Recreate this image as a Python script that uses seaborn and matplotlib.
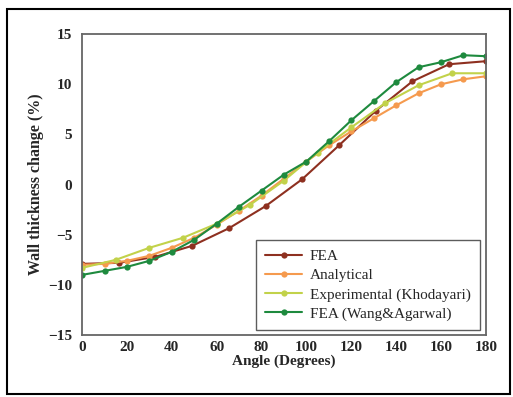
import numpy as np
import pandas as pd
import seaborn as sns
import matplotlib.pyplot as plt
from matplotlib.patches import Rectangle

# =============================================================================
# DATA
# =============================================================================
fea_angle = [0, 16.4, 32.7, 49.1, 65.5, 81.8, 98.2, 114.5, 130.9, 147.3, 163.6, 180]
fea_val = [-7.9, -7.8, -7.2, -6.1, -4.35, -2.15, 0.55, 3.9, 7.35, 10.3, 12.0, 12.3]

ana_angle = [0, 10, 20, 30, 40, 50, 60, 70, 80, 90, 100, 110, 120, 130, 140, 150, 160, 170, 180]
ana_val = [-8.0, -7.9, -7.6, -7.1, -6.3, -5.3, -4.0, -2.6, -1.1, 0.6, 2.3, 3.9,
           5.3, 6.6, 7.9, 9.1, 10.0, 10.5, 10.8]

exp_angle = [0, 15, 30, 45, 60, 75, 90, 105, 120, 135, 150, 165, 180]
exp_val = [-8.3, -7.5, -6.3, -5.3, -3.9, -2.0, 0.4, 3.2, 5.7, 8.1, 9.9, 11.1, 11.1]

wang_angle = [0, 10, 20, 30, 40, 50, 60, 70, 80, 90, 100, 110, 120, 130, 140, 150, 160, 170, 180]
wang_val = [-9.0, -8.6, -8.2, -7.6, -6.7, -5.5, -3.9, -2.2, -0.6, 1.0, 2.3, 4.3,
            6.4, 8.3, 10.2, 11.7, 12.2, 12.9, 12.8]

series_names = ["FEA", "Analytical", "Experimental (Khodayari)", "FEA (Wang&Agarwal)"]
series_colors = ["#8E3020", "#F59A4E", "#C2D24A", "#1E8A3E"]


def build_frame():
    parts = []
    for name, xs, ys in zip(series_names,
                            [fea_angle, ana_angle, exp_angle, wang_angle],
                            [fea_val, ana_val, exp_val, wang_val]):
        parts.append(pd.DataFrame({"Angle": xs, "Change": ys, "Series": name}))
    return pd.concat(parts, ignore_index=True)


# =============================================================================
# PLOT
# =============================================================================
def main():
    df = build_frame()
    sns.set_style("white")
    plt.rcParams["font.family"] = ["Liberation Serif", "DejaVu Serif"]

    fig = plt.figure(figsize=(5.13, 3.97), dpi=100)
    ax = fig.add_axes([0.160, 0.156, 0.787, 0.758])

    palette = dict(zip(series_names, series_colors))
    sns.lineplot(
        data=df, x="Angle", y="Change", hue="Series", style="Series",
        hue_order=series_names, palette=palette,
        markers={n: "o" for n in series_names}, dashes=False,
        markersize=4.5, markeredgewidth=0, linewidth=1.5,
        sort=True, estimator=None, ax=ax,
    )

    ax.set_xlim(0, 180)
    ax.set_ylim(-15, 15)
    ax.set_xticks(range(0, 181, 20))
    ax.set_yticks(range(-15, 16, 5))
    ax.set_xticklabels([str(v) for v in range(0, 181, 20)], fontweight="bold", fontsize=11)
    ax.set_yticklabels([f"\u2212{abs(v)}" if v < 0 else str(v) for v in range(-15, 16, 5)],
                       fontweight="bold", fontsize=11)
    ax.tick_params(axis="x", direction="inout", length=5, width=1, color="#555555", pad=2)
    ax.tick_params(axis="y", direction="out", length=4, width=1, color="#555555", pad=3)
    for sp in ax.spines.values():
        sp.set_color("#666666")
        sp.set_linewidth(1.3)

    ax.set_xlabel("Angle (Degrees)", fontweight="bold", fontsize=11, labelpad=0)
    ax.set_ylabel("Wall thickness change (%)", fontweight="bold", fontsize=11.5, labelpad=3)

    leg = ax.legend(loc="lower right", fontsize=11, frameon=True, fancybox=False,
                    handlelength=2.4, handletextpad=0.5, borderpad=0.6,
                    labelspacing=0.35, borderaxespad=0,
                    bbox_to_anchor=(0.985, 0.017))
    leg.get_frame().set_edgecolor("#333333")
    leg.get_frame().set_linewidth(1.0)

    # outer black frame around the whole figure
    fig.patches.append(Rectangle((7 / 513, 3 / 397), 503 / 513, 385 / 397,
                                 transform=fig.transFigure, fill=False,
                                 edgecolor="black", linewidth=1.5))

    fig.savefig("out.png", dpi=100)
    plt.close(fig)


if __name__ == "__main__":
    main()
